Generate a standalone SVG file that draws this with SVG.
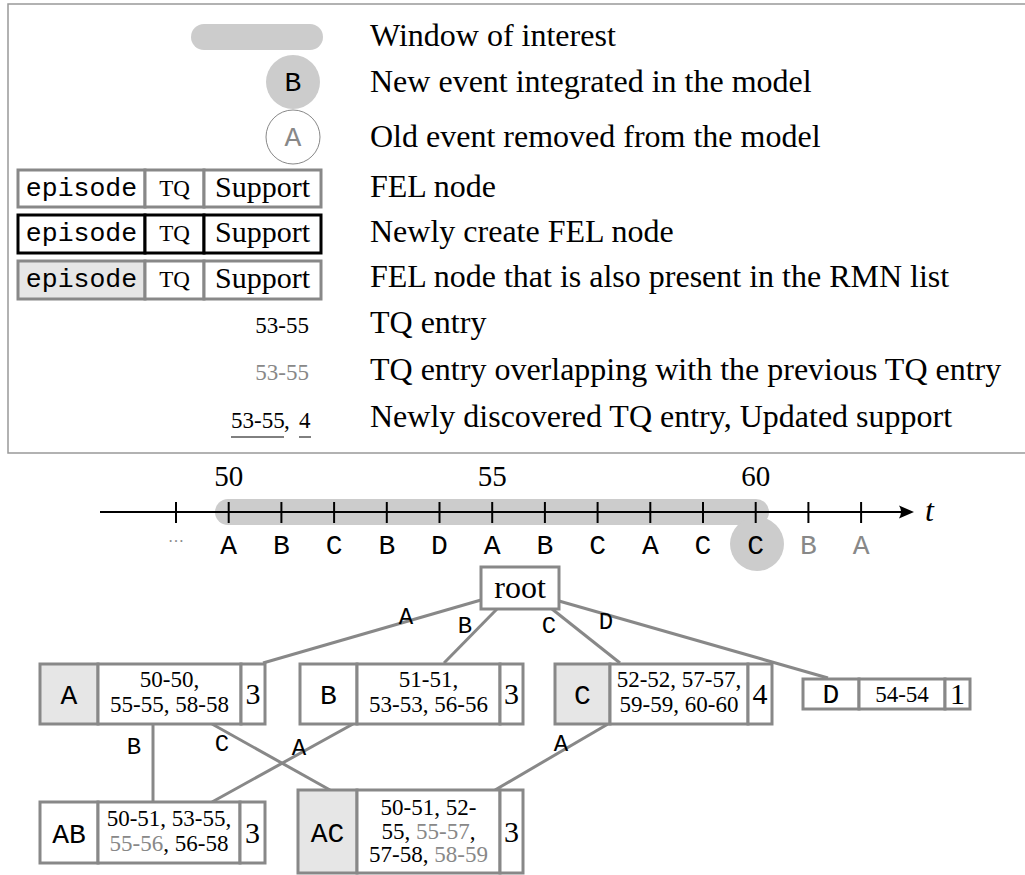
<svg xmlns="http://www.w3.org/2000/svg" width="1025" height="875" viewBox="0 0 1025 875">
<style>
.s{font-family:"Liberation Serif",serif;fill:#000}
.m{font-family:"Liberation Mono",monospace;fill:#000}
.d{font-size:32px}
.sm{font-size:23px}
.c{text-anchor:middle}
.e{text-anchor:end}
.cell{fill:#fff;stroke:#888;stroke-width:3}
.hl{fill:#e6e6e6}
.blk{stroke:#000}
.edge{stroke:#888;stroke-width:3;fill:none}
.g{fill:#888}
.nl{font-size:28px}
.el{font-size:24px}
.sup{font-size:30px}
</style>
<rect width="1025" height="875" fill="#fff"/>
<g id="legend">
<path d="M1025,4 H8 V453 H1025" fill="none" stroke="#999" stroke-width="1.5"/>
<rect x="191" y="24" width="132" height="26" rx="13" fill="#ccc"/>
<text x="370" y="46" class="s d">Window of interest</text>
<circle cx="293" cy="82" r="27" fill="#ccc"/>
<text x="293" y="91" class="m nl c">B</text>
<text x="370" y="92" class="s d">New event integrated in the model</text>
<circle cx="293" cy="137" r="27" fill="#fff" stroke="#888" stroke-width="1"/>
<text x="293" y="146" class="m nl c g">A</text>
<text x="370" y="147" class="s d">Old event removed from the model</text>
<g id="legend-fel">
<rect x="18" y="170" width="127" height="37" class="cell"/>
<rect x="145" y="170" width="59" height="37" class="cell"/>
<rect x="204" y="170" width="117" height="37" class="cell"/>
<text x="81.5" y="196" class="m c" font-size="26.5">episode</text>
<text x="174.5" y="196" class="s c" font-size="23">TQ</text>
<text x="262.5" y="197" class="s c" font-size="30">Support</text>
</g>
<text x="370" y="197" class="s d">FEL node</text>
<g id="legend-new">
<rect x="18" y="215" width="127" height="38" class="cell blk"/>
<rect x="145" y="215" width="59" height="38" class="cell blk"/>
<rect x="204" y="215" width="117" height="38" class="cell blk"/>
<text x="81.5" y="241" class="m c" font-size="26.5">episode</text>
<text x="174.5" y="241" class="s c" font-size="23">TQ</text>
<text x="262.5" y="242" class="s c" font-size="30">Support</text>
</g>
<text x="370" y="242" class="s d">Newly create FEL node</text>
<g id="legend-rmn">
<rect x="18" y="261" width="127" height="38" class="cell hl"/>
<rect x="145" y="261" width="59" height="38" class="cell"/>
<rect x="204" y="261" width="117" height="38" class="cell"/>
<text x="81.5" y="287" class="m c" font-size="26.5">episode</text>
<text x="174.5" y="287" class="s c" font-size="23">TQ</text>
<text x="262.5" y="288" class="s c" font-size="30">Support</text>
</g>
<text x="370" y="287" class="s d">FEL node that is also present in the RMN list</text>
<text x="309" y="333" class="s sm e">53-55</text>
<text x="370" y="333" class="s d">TQ entry</text>
<text x="309" y="380" class="s sm e g">53-55</text>
<text x="370" y="380" class="s d">TQ entry overlapping with the previous TQ entry</text>
<text x="231" y="428" class="s sm">53-55<tspan x="284">,</tspan><tspan x="299">4</tspan></text>
<line x1="231" y1="437" x2="284" y2="437" stroke="#000" stroke-width="1"/>
<line x1="299" y1="437" x2="311" y2="437" stroke="#000" stroke-width="1"/>
<text x="370" y="427" class="s d">Newly discovered TQ entry, Updated support</text>
</g>
<g id="timeline">
<rect x="215" y="499" width="554" height="26" rx="13" fill="#ccc"/>
<circle cx="757" cy="544" r="27" fill="#ccc"/>
<line x1="100" y1="512" x2="905" y2="512" stroke="#000" stroke-width="2"/>
<path d="M914,512 L899,505.5 Q903,512 899,518.5 Z" fill="#000"/>
<text x="925" y="521" class="s d" font-style="italic">t</text>
<g stroke="#000" stroke-width="2">
<line x1="176" y1="502" x2="176" y2="523"/>
<line x1="228.7" y1="502" x2="228.7" y2="523"/>
<line x1="281.4" y1="502" x2="281.4" y2="523"/>
<line x1="334.1" y1="502" x2="334.1" y2="523"/>
<line x1="386.8" y1="502" x2="386.8" y2="523"/>
<line x1="439.5" y1="502" x2="439.5" y2="523"/>
<line x1="492.2" y1="502" x2="492.2" y2="523"/>
<line x1="544.9" y1="502" x2="544.9" y2="523"/>
<line x1="597.6" y1="502" x2="597.6" y2="523"/>
<line x1="650.3" y1="502" x2="650.3" y2="523"/>
<line x1="703" y1="502" x2="703" y2="523"/>
<line x1="755.7" y1="502" x2="755.7" y2="523"/>
<line x1="808.4" y1="502" x2="808.4" y2="523"/>
<line x1="861.1" y1="502" x2="861.1" y2="523"/>
</g>
<text x="228.7" y="486" class="s c" font-size="29">50</text>
<text x="492.2" y="486" class="s c" font-size="29">55</text>
<text x="755.7" y="486" class="s c" font-size="29">60</text>
<text x="176" y="542" class="s c g" font-size="16">…</text>
<g class="m nl c">
<text x="228.7" y="554">A</text>
<text x="281.4" y="554">B</text>
<text x="334.1" y="554">C</text>
<text x="386.8" y="554">B</text>
<text x="439.5" y="554">D</text>
<text x="492.2" y="554">A</text>
<text x="544.9" y="554">B</text>
<text x="597.6" y="554">C</text>
<text x="650.3" y="554">A</text>
<text x="703" y="554">C</text>
<text x="755.7" y="554">C</text>
<text x="808.4" y="554" class="g">B</text>
<text x="861.1" y="554" class="g">A</text>
</g>
</g>
<g id="connectors">
<line x1="481" y1="600" x2="263" y2="663" class="edge"/>
<line x1="497" y1="609" x2="444" y2="663" class="edge"/>
<line x1="552" y1="609" x2="620" y2="663" class="edge"/>
<line x1="559" y1="601" x2="828" y2="678" class="edge"/>
<line x1="153" y1="724" x2="153" y2="802" class="edge"/>
<line x1="212" y1="724" x2="330" y2="790" class="edge"/>
<line x1="353" y1="724" x2="212" y2="802" class="edge"/>
<line x1="608" y1="724" x2="495" y2="790" class="edge"/>
<g class="m el c">
<text x="406" y="624">A</text>
<text x="465" y="633">B</text>
<text x="549" y="633">C</text>
<text x="606" y="629">D</text>
<text x="134" y="754">B</text>
<text x="222" y="751">C</text>
<text x="299" y="755">A</text>
<text x="561" y="751">A</text>
</g>
</g>
<g id="node-root">
<rect x="481" y="567" width="78" height="42" class="cell"/>
<text x="520" y="598" class="s d c">root</text>
</g>
<g id="node-A">
<rect x="40" y="664" width="58" height="60" class="cell hl"/>
<rect x="98" y="664" width="143" height="60" class="cell"/>
<rect x="241" y="664" width="24" height="60" class="cell"/>
<text x="69" y="704" class="m nl c">A</text>
<text x="169.5" y="687" class="s sm c">50-50,</text>
<text x="169.5" y="712" class="s sm c">55-55, 58-58</text>
<text x="253" y="704" class="s sup c">3</text>
</g>
<g id="node-B">
<rect x="300" y="664" width="57" height="60" class="cell"/>
<rect x="357" y="664" width="143" height="60" class="cell"/>
<rect x="500" y="664" width="23" height="60" class="cell"/>
<text x="328.5" y="704" class="m nl c">B</text>
<text x="428.5" y="687" class="s sm c">51-51,</text>
<text x="428.5" y="712" class="s sm c">53-53, 56-56</text>
<text x="511.5" y="704" class="s sup c">3</text>
</g>
<g id="node-C">
<rect x="555" y="664" width="55" height="60" class="cell hl"/>
<rect x="610" y="664" width="138" height="60" class="cell"/>
<rect x="748" y="664" width="24" height="60" class="cell"/>
<text x="582.5" y="704" class="m nl c">C</text>
<text x="679" y="687" class="s sm c">52-52, 57-57,</text>
<text x="679" y="712" class="s sm c">59-59, 60-60</text>
<text x="760" y="704" class="s sup c">4</text>
</g>
<g id="node-D">
<rect x="803" y="679" width="56" height="30" class="cell"/>
<rect x="859" y="679" width="86" height="30" class="cell"/>
<rect x="945" y="679" width="25" height="30" class="cell"/>
<text x="831" y="703" class="m nl c">D</text>
<text x="902" y="702" class="s sm c">54-54</text>
<text x="957.5" y="704" class="s sup c">1</text>
</g>
<g id="node-AB">
<rect x="40" y="802" width="58" height="61" class="cell"/>
<rect x="98" y="802" width="142" height="61" class="cell"/>
<rect x="240" y="802" width="25" height="61" class="cell"/>
<text x="69" y="843" class="m nl c">AB</text>
<text x="169" y="826" class="s sm c">50-51, 53-55,</text>
<text x="169" y="851" class="s sm c"><tspan class="g">55-56</tspan>, 56-58</text>
<text x="252.5" y="843" class="s sup c">3</text>
</g>
<g id="node-AC">
<rect x="298" y="790" width="59" height="83" class="cell hl"/>
<rect x="357" y="790" width="143" height="83" class="cell"/>
<rect x="500" y="790" width="23" height="83" class="cell"/>
<text x="327.5" y="842" class="m nl c">AC</text>
<text x="428.5" y="815" class="s sm c">50-51, 52-</text>
<text x="428.5" y="839" class="s sm c">55, <tspan class="g">55-57</tspan>,</text>
<text x="428.5" y="862" class="s sm c">57-58, <tspan class="g">58-59</tspan></text>
<text x="511.5" y="842" class="s sup c">3</text>
</g>
</svg>
